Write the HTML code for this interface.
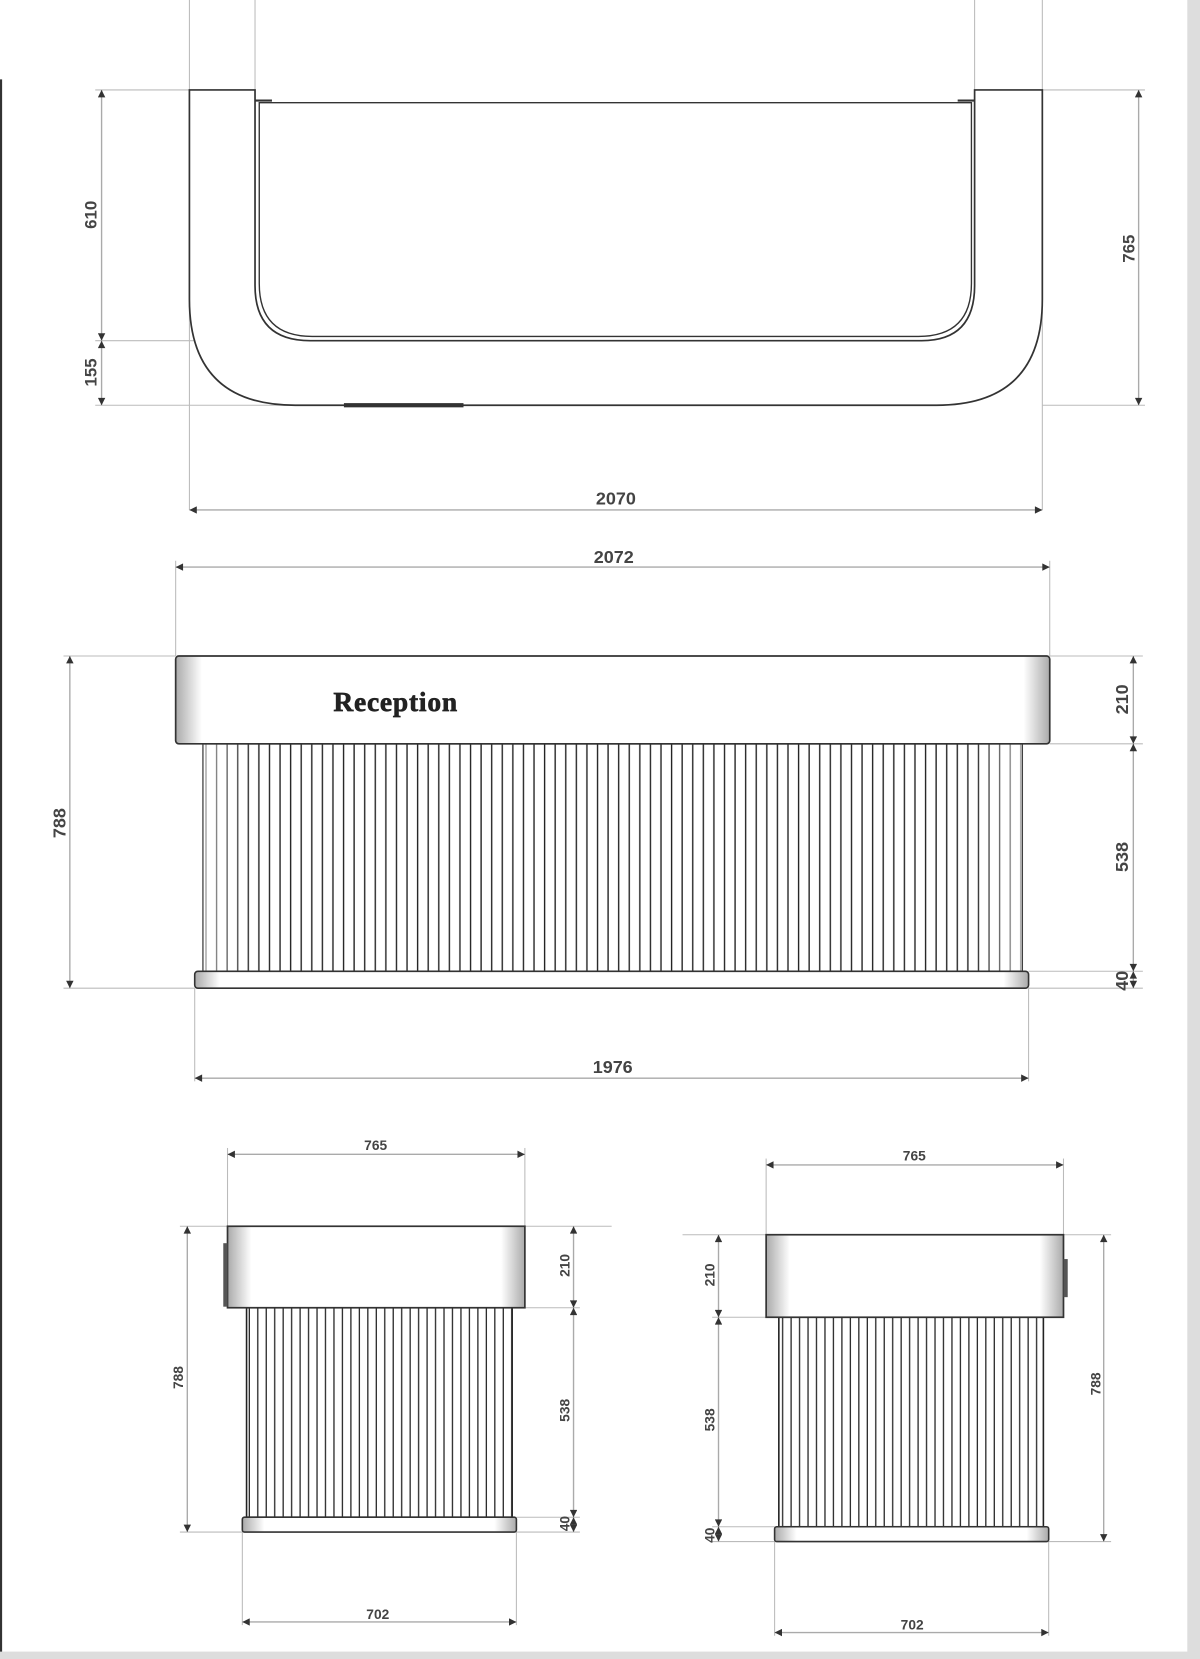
<!DOCTYPE html>
<html><head><meta charset="utf-8"><style>
html,body{margin:0;padding:0;background:#fff;width:1200px;height:1659px;overflow:hidden}
svg{display:block}
text{font-family:"Liberation Sans",sans-serif;font-weight:bold;fill:#444;font-size:15px}
</style></head><body>
<svg width="1200" height="1659" viewBox="0 0 1134 1568" preserveAspectRatio="none">
<defs>
<marker id="a" viewBox="0 0 10 10" refX="10" refY="5" markerWidth="9" markerHeight="7" orient="auto-start-reverse" markerUnits="userSpaceOnUse"><path d="M0,0L10,5L0,10z" fill="#333"/></marker>
<pattern id="fl" width="10" height="10" patternUnits="userSpaceOnUse"><rect width="10" height="10" fill="#fff"/><rect x="4" width="1.3" height="10" fill="#222"/></pattern>
<pattern id="fl2" width="8" height="10" patternUnits="userSpaceOnUse"><rect width="8" height="10" fill="#fff"/><rect x="3" width="1.2" height="10" fill="#222"/></pattern>
<linearGradient id="g" x1="0" x2="1"><stop offset="0" stop-color="#aaa"/><stop offset="0.03" stop-color="#fff"/><stop offset="0.97" stop-color="#fff"/><stop offset="1" stop-color="#aaa"/></linearGradient>
<linearGradient id="g2" x1="0" x2="1"><stop offset="0" stop-color="#aaa"/><stop offset="0.08" stop-color="#fff"/><stop offset="0.92" stop-color="#fff"/><stop offset="1" stop-color="#aaa"/></linearGradient>
<linearGradient id="fg" x1="0" x2="1"><stop offset="0" stop-color="#fff" stop-opacity="0.6"/><stop offset="0.06" stop-color="#fff" stop-opacity="0"/><stop offset="0.94" stop-color="#fff" stop-opacity="0"/><stop offset="1" stop-color="#fff" stop-opacity="0.6"/></linearGradient>
</defs>
<rect x="1122" y="0" width="12" height="1568" fill="#ddd"/>
<rect x="0" y="1561" width="1134" height="7" fill="#ddd"/>
<line x1="1" y1="75" x2="1" y2="1561" stroke="#333" stroke-width="2"/>

<g stroke="#bbb" stroke-width="1" fill="none">
<line x1="179" y1="0" x2="179" y2="482"/><line x1="241" y1="0" x2="241" y2="85"/>
<line x1="921" y1="0" x2="921" y2="85"/><line x1="985" y1="0" x2="985" y2="482"/>
<line x1="90" y1="85" x2="179" y2="85"/><line x1="90" y1="322" x2="290" y2="322"/><line x1="90" y1="383" x2="330" y2="383"/>
<line x1="985" y1="85" x2="1082" y2="85"/><line x1="985" y1="383" x2="1082" y2="383"/>
<line x1="166" y1="530" x2="166" y2="620"/><line x1="992" y1="530" x2="992" y2="620"/>
<line x1="60" y1="620" x2="166" y2="620"/><line x1="60" y1="934" x2="184" y2="934"/>
<line x1="992" y1="620" x2="1080" y2="620"/><line x1="992" y1="703" x2="1080" y2="703"/><line x1="972" y1="918" x2="1080" y2="918"/><line x1="972" y1="934" x2="1080" y2="934"/>
<line x1="184" y1="934" x2="184" y2="1022"/><line x1="972" y1="934" x2="972" y2="1022"/>
<line x1="215" y1="1085" x2="215" y2="1159"/><line x1="496" y1="1085" x2="496" y2="1159"/>
<line x1="170" y1="1159" x2="578" y2="1159"/><line x1="170" y1="1448" x2="229" y2="1448"/>
<line x1="484" y1="1236" x2="548" y2="1236"/><line x1="488" y1="1434" x2="548" y2="1434"/><line x1="488" y1="1448" x2="548" y2="1448"/>
<line x1="229" y1="1448" x2="229" y2="1536"/><line x1="488" y1="1448" x2="488" y2="1536"/>
<line x1="724" y1="1095" x2="724" y2="1167"/><line x1="1005" y1="1095" x2="1005" y2="1167"/>
<line x1="645" y1="1167" x2="1050" y2="1167"/><line x1="673" y1="1245" x2="736" y2="1245"/><line x1="673" y1="1443" x2="732" y2="1443"/><line x1="673" y1="1457" x2="1050" y2="1457"/>
<line x1="732" y1="1457" x2="732" y2="1546"/><line x1="991" y1="1457" x2="991" y2="1546"/>
</g>

<g stroke="#aaa" stroke-width="1.3" fill="none" marker-start="url(#a)" marker-end="url(#a)">
<line x1="96" y1="85" x2="96" y2="322"/><line x1="96" y1="322" x2="96" y2="383"/>
<line x1="1076" y1="85" x2="1076" y2="383"/>
<line x1="179" y1="482" x2="985" y2="482"/>
<line x1="166" y1="536" x2="992" y2="536"/>
<line x1="66" y1="620" x2="66" y2="934"/>
<line x1="1071" y1="620" x2="1071" y2="703"/><line x1="1071" y1="703" x2="1071" y2="918"/><line x1="1071" y1="918" x2="1071" y2="934"/>
<line x1="184" y1="1019" x2="972" y2="1019"/>
<line x1="215" y1="1091" x2="496" y2="1091"/>
<line x1="177" y1="1159" x2="177" y2="1448"/>
<line x1="542" y1="1159" x2="542" y2="1236"/><line x1="542" y1="1236" x2="542" y2="1434"/><line x1="542" y1="1434" x2="542" y2="1448"/>
<line x1="229" y1="1533" x2="488" y2="1533"/>
<line x1="724" y1="1101" x2="1005" y2="1101"/>
<line x1="679" y1="1167" x2="679" y2="1245"/><line x1="679" y1="1245" x2="679" y2="1443"/><line x1="679" y1="1443" x2="679" y2="1457"/>
<line x1="1043" y1="1167" x2="1043" y2="1457"/>
<line x1="732" y1="1543" x2="991" y2="1543"/>
</g>

<path d="M179,85 H241 V270 Q241,322 293,322 H871 Q921,322 921,270 V85 H985 V283 Q985,383 885,383 H279 Q179,383 179,283 Z" fill="#fff" stroke="#333" stroke-width="1.6"/>
<path d="M245,97 H918 V268 Q918,318 868,318 H295 Q245,318 245,268 Z" fill="none" stroke="#333" stroke-width="1.3"/>
<line x1="241" y1="95" x2="257" y2="95" stroke="#333" stroke-width="2"/><line x1="905" y1="95" x2="921" y2="95" stroke="#333" stroke-width="2"/>
<rect x="325" y="381" width="113" height="4" fill="#333"/>

<rect x="192" y="703" width="774" height="215" fill="url(#fl)" stroke="#222" stroke-width="1.5"/>
<rect x="192" y="703" width="774" height="215" fill="url(#fg)"/>
<rect x="166" y="620" width="826" height="83" rx="3" fill="url(#g)" stroke="#333" stroke-width="1.6"/>
<text x="315" y="672" textLength="117" style="font-family:'Liberation Serif',serif;font-size:26px;fill:#222;stroke:#222;stroke-width:0.6">Reception</text>
<rect x="184" y="918" width="788" height="16" rx="3" fill="url(#g)" stroke="#333" stroke-width="1.5"/>

<rect x="233" y="1236" width="251" height="198" fill="url(#fl2)" stroke="#222" stroke-width="1.5"/>
<rect x="215" y="1159" width="281" height="77" fill="url(#g2)" stroke="#333" stroke-width="1.6"/>
<rect x="211" y="1175" width="4" height="60" fill="#555"/>
<rect x="229" y="1434" width="259" height="14" rx="2" fill="url(#g2)" stroke="#333" stroke-width="1.5"/>

<rect x="736" y="1245" width="250" height="198" fill="url(#fl2)" stroke="#222" stroke-width="1.5"/>
<rect x="724" y="1167" width="281" height="78" fill="url(#g2)" stroke="#333" stroke-width="1.6"/>
<rect x="1005" y="1190" width="4" height="36" fill="#555"/>
<rect x="732" y="1443" width="259" height="14" rx="2" fill="url(#g2)" stroke="#333" stroke-width="1.5"/>

<g text-anchor="middle">
<text x="582" y="477" style="font-size:17px">2070</text>
<text x="580" y="532" style="font-size:17px">2072</text>
<text x="579" y="1014" style="font-size:17px">1976</text>
<text x="355" y="1087" style="font-size:13px">765</text>
<text x="357" y="1530" style="font-size:13px">702</text>
<text x="864" y="1097" style="font-size:13px">765</text>
<text x="862" y="1540" style="font-size:13px">702</text>
<text transform="translate(91,203) rotate(-90)" style="font-size:16px">610</text>
<text transform="translate(91,352) rotate(-90)" style="font-size:16px">155</text>
<text transform="translate(1072,235) rotate(-90)" style="font-size:16px">765</text>
<text transform="translate(62,778) rotate(-90)" style="font-size:17px">788</text>
<text transform="translate(1066,661) rotate(-90)" style="font-size:17px">210</text>
<text transform="translate(1066,810) rotate(-90)" style="font-size:17px">538</text>
<text transform="translate(1066,927) rotate(-90)" style="font-size:17px">40</text>
<text transform="translate(173,1302) rotate(-90)" style="font-size:13px">788</text>
<text transform="translate(538,1196) rotate(-90)" style="font-size:13px">210</text>
<text transform="translate(538,1333) rotate(-90)" style="font-size:13px">538</text>
<text transform="translate(538,1440) rotate(-90)" style="font-size:13px">40</text>
<text transform="translate(675,1205) rotate(-90)" style="font-size:13px">210</text>
<text transform="translate(675,1342) rotate(-90)" style="font-size:13px">538</text>
<text transform="translate(675,1451) rotate(-90)" style="font-size:13px">40</text>
<text transform="translate(1040,1308) rotate(-90)" style="font-size:13px">788</text>
</g>
</svg>
</body></html>
